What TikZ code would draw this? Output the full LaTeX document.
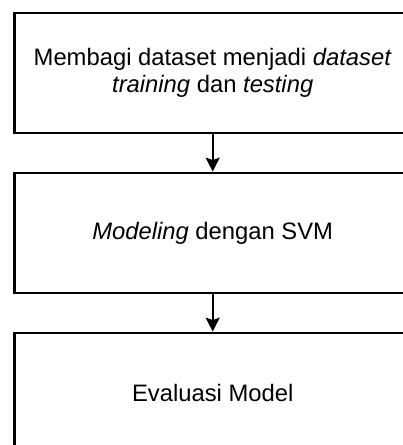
\documentclass[tikz,border=0pt]{standalone}
\usepackage{fontspec}
\setmainfont{Liberation Sans}
\usetikzlibrary{arrows.meta}

\tikzset{
  stepbox/.style={draw=black, line width=2.8pt, fill=white,
    minimum width=396.4pt, minimum height=120pt, inner sep=0pt,
    align=center, text=black,
    font=\fontsize{23.8}{27.4}\selectfont},
  flow/.style={draw=black, line width=1.8pt,
    -{Stealth[length=14pt, width=14pt, inset=2.5pt]}}
}

\begin{document}
\begin{tikzpicture}[x=1pt, y=-1pt]
  \useasboundingbox (0,0) rectangle (403,445);
  \clip (0,0) rectangle (403,445);

  % process steps
  \node[stepbox] (split) at (212.7,73)
    {Membagi dataset menjadi \textit{dataset}\\\textit{training} dan \textit{testing}};
  \node[stepbox] (model) at (212.7,233) {\textit{Modeling} dengan SVM};
  \node[stepbox] (eval)  at (212.7,393) {Evaluasi Model};

  % connectors
  \draw[flow] (split.south) -- (model.north);
  \draw[flow] (model.south) -- (eval.north);
\end{tikzpicture}
\end{document}
